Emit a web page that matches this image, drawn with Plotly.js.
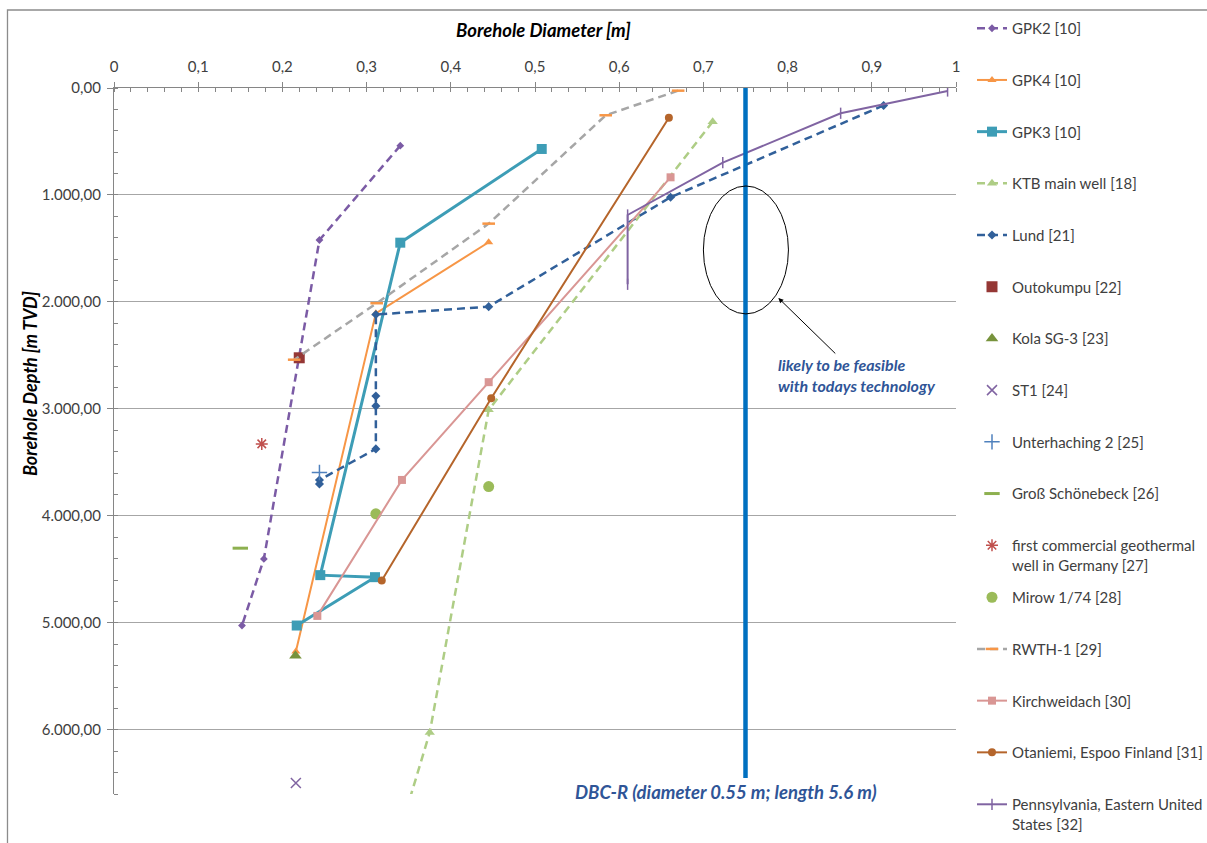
<!DOCTYPE html>
<html>
<head>
<meta charset="utf-8">
<script src="https://cdn.plot.ly/plotly-3.0.1.min.js"></script>
<style>html,body{margin:0;padding:0;background:#fff;overflow:hidden;}#chart{width:1207px;height:843px;}</style>
</head>
<body>
<div id="chart"></div>
<script>
// ---- tick labels ----
const xTickVals = [0, 0.1, 0.2, 0.3, 0.4, 0.5, 0.6, 0.7, 0.8, 0.9, 1];
const xTickText = ['0', '0,1', '0,2', '0,3', '0,4', '0,5', '0,6', '0,7', '0,8', '0,9', '1'];
const yTickVals = [0, 1000, 2000, 3000, 4000, 5000, 6000];
const yTickText = ['0,00', '1.000,00', '2.000,00', '3.000,00', '4.000,00', '5.000,00', '6.000,00'];

// ---- series: diameter [m] and depth [m TVD] ----
const gpk2D = [0.340, 0.244, 0.178, 0.152];
const gpk2Z = [539, 1421, 4402, 5025];
const gpk4D = [0.445, 0.311, 0.216];
const gpk4Z = [1442, 2106, 5268];
const gpk3D = [0.508, 0.340, 0.245, 0.310, 0.217];
const gpk3Z = [570, 1446, 4554, 4573, 5025];
const ktbD = [0.711, 0.445, 0.375, 0.311];
const ktbZ = [315, 3009, 6025, 7700];
const lundD = [0.914, 0.661, 0.445, 0.311, 0.311, 0.311, 0.311, 0.244, 0.244];
const lundZ = [163, 1021, 2044, 2118, 2879, 2972, 3374, 3664, 3701];
const outokumpuD = [0.220];
const outokumpuZ = [2522];
const kolaD = [0.2155];
const kolaZ = [5308];
const st1D = [0.216];
const st1Z = [6498];
const unterhachingD = [0.244];
const unterhachingZ = [3595];
const grossD = [0.150];
const grossZ = [4302];
const firstComD = [0.1755];
const firstComZ = [3327];
const mirowD = [0.311, 0.445];
const mirowZ = [3981, 3726];
const rwthD = [0.670, 0.584, 0.445, 0.312, 0.214];
const rwthZ = [25, 255, 1268, 2012, 2540];
const kirchD = [0.661, 0.445, 0.342, 0.2415];
const kirchZ = [835, 2750, 3664, 4935];
const otaD = [0.659, 0.448, 0.318];
const otaZ = [278, 2900, 4605];
const pennD = [0.990, 0.863, 0.723, 0.610, 0.610];
const pennZ = [28, 236, 698, 1187, 1835];

// DBC-R reference line and feasibility ellipse
const dbcX = 0.75;
const dbcDepth = [0, 6450];
const ellipseX = [0.700, 0.801];
const ellipseZ = [916, 2112];

const DASH = '8px,5px';
let g = 0;
function tr(name, x, y, mode, line, marker, legend) {
  g++;
  const t = {type: 'scatter', name: name, x: x, y: y, mode: mode, marker: marker,
    legendgroup: 'g' + g, legend: legend || 'legend', hoverinfo: 'name+x+y', cliponaxis: true};
  if (line) t.line = line;
  return t;
}

const data = [
  tr('GPK2 [10]', gpk2D, gpk2Z, 'lines+markers', {color: '#7B5BA5', width: 2.5, dash: DASH}, {symbol: 'diamond', size: 6, color: '#7B5BA5'}),
  tr('GPK4 [10]', gpk4D, gpk4Z, 'lines+markers', {color: '#F79646', width: 2}, {symbol: 'triangle-up', size: 8, color: '#F79646'}),
  tr('GPK3 [10]', gpk3D, gpk3Z, 'lines+markers', {color: '#3D9DB6', width: 3}, {symbol: 'square', size: 10, color: '#3D9DB6'}),
  tr('KTB main well [18]', ktbD, ktbZ, 'lines+markers', {color: '#AECD85', width: 2.5, dash: DASH}, {symbol: 'triangle-up', size: 9, color: '#AECD85'}),
  tr('Lund [21]', lundD, lundZ, 'lines+markers', {color: '#31609A', width: 2.5, dash: DASH}, {symbol: 'diamond', size: 7, color: '#31609A'}),
  tr('Outokumpu [22]', outokumpuD, outokumpuZ, 'markers', null, {symbol: 'square', size: 11, color: '#953735'}),
  tr('Kola SG-3 [23]', kolaD, kolaZ, 'markers', null, {symbol: 'triangle-up', size: 11, color: '#77933C'}),
  tr('ST1 [24]', st1D, st1Z, 'markers', null, {symbol: 'x-thin', size: 10, color: '#8064A2', line: {color: '#8064A2', width: 1.5}}),
  tr('Unterhaching 2 [25]', unterhachingD, unterhachingZ, 'markers', null, {symbol: 'cross-thin', size: 11, color: '#4F81BD', line: {color: '#4F81BD', width: 1.5}}),
  tr('Groß Schönebeck [26]', grossD, grossZ, 'markers', null, {symbol: 'line-ew', size: 11, color: '#8DB04F', line: {color: '#8DB04F', width: 3}}),
  tr('first commercial geothermal<br>well in Germany [27]', firstComD, firstComZ, 'markers', null, {symbol: 'asterisk', size: 10, color: '#C0504D', line: {color: '#C0504D', width: 1.5}}),
  tr('Mirow 1/74 [28]', mirowD, mirowZ, 'markers', null, {symbol: 'circle', size: 11, color: '#9BBB59'}, 'legend2'),
  tr('RWTH-1 [29]', rwthD, rwthZ, 'lines+markers', {color: '#A6A6A6', width: 2.5, dash: DASH}, {symbol: 'line-ew', size: 9, color: '#F79646', line: {color: '#F79646', width: 2.5}}, 'legend2'),
  tr('Kirchweidach [30]', kirchD, kirchZ, 'lines+markers', {color: '#D99694', width: 2}, {symbol: 'square', size: 8, color: '#D99694'}, 'legend2'),
  tr('Otaniemi, Espoo Finland [31]', otaD, otaZ, 'lines+markers', {color: '#B5652B', width: 2}, {symbol: 'circle', size: 8, color: '#B5652B'}, 'legend2'),
  tr('Pennsylvania, Eastern United<br>States [32]', pennD, pennZ, 'lines+markers', {color: '#8064A2', width: 2}, {symbol: 'line-ns', size: 8, color: '#8064A2', line: {color: '#8064A2', width: 1.5}}, 'legend3')
];

const FONT = 'Lato, "Open Sans", "Liberation Sans", sans-serif';
const axisColor = '#868686';
const legendBase = {
  xref: 'container', yref: 'container',
  xanchor: 'left', yanchor: 'top', x: 0.8053,
  font: {family: FONT, size: 15, color: '#404040'},
  traceorder: 'grouped', tracegroupgap: 29.2, valign: 'top',
  maxheight: 820,
  bgcolor: 'rgba(0,0,0,0)', borderwidth: 0
};

const layout = {
  width: 1207, height: 843,
  margin: {l: 114, r: 251, t: 88, b: 49},
  paper_bgcolor: '#fff', plot_bgcolor: '#fff',
  font: {family: FONT, size: 15, color: '#404040'},
  showlegend: true,
  legend: Object.assign({}, legendBase, {y: 0.98577}),
  legend2: Object.assign({}, legendBase, {y: 0.3108}),
  legend3: Object.assign({}, legendBase, {y: 0.0652}),
  xaxis: {
    side: 'top', range: [0, 1], tickvals: xTickVals, ticktext: xTickText,
    showline: true, linecolor: axisColor, linewidth: 1.3,
    ticks: 'outside', ticklen: 5, tickcolor: axisColor, tickwidth: 1.3,
    ticklabelstandoff: 4,
    minor: {dtick: 0.02, ticks: 'inside', ticklen: 4, tickcolor: axisColor, tickwidth: 1},
    showgrid: false, zeroline: false,
    tickfont: {family: FONT, size: 15, color: '#404040'}
  },
  yaxis: {
    range: [6600, 0], tickvals: yTickVals, ticktext: yTickText,
    showline: true, linecolor: axisColor, linewidth: 1.3,
    ticks: 'outside', ticklen: 6, tickcolor: axisColor, tickwidth: 1.3,
    ticklabelstandoff: 3,
    minor: {dtick: 200, ticks: 'inside', ticklen: 4, tickcolor: axisColor, tickwidth: 1, showgrid: false},
    showgrid: true, gridcolor: '#A6A6A6', gridwidth: 1.3, zeroline: false,
    tickfont: {family: FONT, size: 15, color: '#404040'}
  },
  shapes: [
    {type: 'rect', xref: 'paper', yref: 'paper', x0: -0.1265, x1: 1.31, y0: -0.08, y1: 1.1105,
      line: {color: '#8C8C8C', width: 1.3}, fillcolor: 'rgba(0,0,0,0)', layer: 'below'},
    {type: 'line', xref: 'x', yref: 'y', x0: dbcX, x1: dbcX, y0: dbcDepth[0], y1: dbcDepth[1],
      line: {color: '#0070C0', width: 4.5}, layer: 'above'},
    {type: 'circle', xref: 'x', yref: 'y', x0: ellipseX[0], x1: ellipseX[1], y0: ellipseZ[0], y1: ellipseZ[1],
      line: {color: '#000', width: 1}, fillcolor: 'rgba(0,0,0,0)', layer: 'above'}
  ],
  annotations: [
    {xref: 'paper', yref: 'paper', x: 0.5101, y: 1.0822, xanchor: 'center', yanchor: 'middle',
      text: 'Borehole Diameter [m]', showarrow: false,
      font: {family: FONT, size: 18.5, color: '#000', weight: 'bold', style: 'italic'}},
    {xref: 'paper', yref: 'paper', x: -0.0998, y: 0.582, xanchor: 'center', yanchor: 'middle',
      text: 'Borehole Depth [m TVD]', textangle: -90,
      showarrow: false, font: {family: FONT, size: 18, color: '#000', weight: 'bold', style: 'italic'}},
    {xref: 'x', yref: 'y', x: 0.789, y: 1963, ax: 79, ay: 77, text: 'likely to be feasible<br>with todays technology',
      align: 'left', showarrow: true, arrowhead: 2, arrowsize: 1, arrowwidth: 1, arrowcolor: '#000',
      font: {family: FONT, size: 16, color: '#2F5597', weight: 'bold', style: 'italic'}},
    {xref: 'x', yref: 'y', x: 0.727, y: 6579, text: 'DBC-R (diameter 0.55 m; length 5.6 m)', showarrow: false,
      font: {family: FONT, size: 18.5, color: '#2F5597', weight: 'bold', style: 'italic'}}
  ]
};

Plotly.newPlot('chart', data, layout, {displayModeBar: false, responsive: false});
</script>
</body>
</html>
